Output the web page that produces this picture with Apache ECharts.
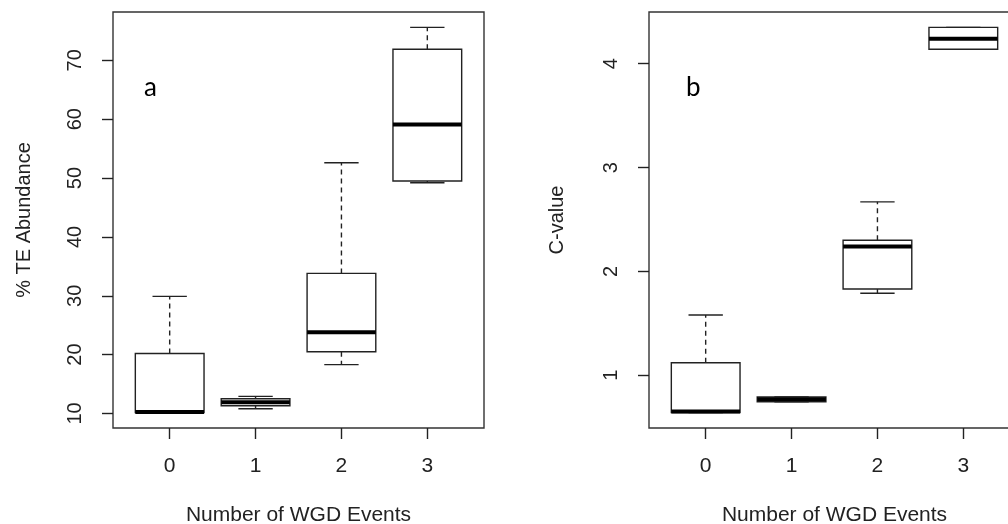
<!DOCTYPE html>
<html>
<head>
<meta charset="utf-8">
<script src="https://cdn.jsdelivr.net/npm/echarts@6/dist/echarts.min.js"></script>
<style>
  html, body { margin: 0; padding: 0; background: #fff; }
  #chart { width: 1008px; height: 524px; }
</style>
</head>
<body>
<div id="chart"></div>
<script>
// Number of whole-genome duplication events (x categories)
const groups = ['0', '1', '2', '3'];

// Panel a: % TE abundance, five-number summaries per group
const teMin = [10.15, 10.8, 18.3, 49.2];
const teQ1  = [10.15, 11.3, 20.5, 49.5];
const teMed = [10.25, 11.9, 23.8, 59.1];
const teQ3  = [20.2, 12.5, 33.8, 71.9];
const teMax = [29.9, 12.9, 52.6, 75.6];
const teTicks = [10, 20, 30, 40, 50, 60, 70];

// Panel b: C-value, five-number summaries per group
const cMin = [0.64, 0.745, 1.79, 4.14];
const cQ1  = [0.64, 0.745, 1.83, 4.14];
const cMed = [0.65, 0.768, 2.24, 4.24];
const cQ3  = [1.12, 0.79, 2.30, 4.35];
const cMax = [1.58, 0.79, 2.67, 4.35];
const cTicks = [1, 2, 3, 4];

const INK = '#222';
const BOXW = 0.8;   // box width in x units
const CAPW = 0.4;   // staple width in x units

function rows(mins, q1s, meds, q3s, maxs) {
  return groups.map((g, i) => [i, mins[i], q1s[i], meds[i], q3s[i], maxs[i]]);
}

// R-style range padding (4% each side)
function padded(mins, maxs) {
  const lo = Math.min(...mins), hi = Math.max(...maxs);
  const d = (hi - lo) * 0.04;
  return [lo - d, hi + d];
}

function renderBox(params, api) {
  const x = api.value(0);
  const unit = api.size([1, 0])[0];
  const bw = unit * BOXW, cw = unit * CAPW;
  const cx = api.coord([x, 0])[0];
  const yMin = api.coord([x, api.value(1)])[1];
  const yQ1 = api.coord([x, api.value(2)])[1];
  const yMed = api.coord([x, api.value(3)])[1];
  const yQ3 = api.coord([x, api.value(4)])[1];
  const yMax = api.coord([x, api.value(5)])[1];
  const solid = { stroke: INK, lineWidth: 1.4, fill: null };
  const dashed = { stroke: INK, lineWidth: 1.4, lineDash: [5, 4] };
  const children = [];
  if (yMax < yQ3) {
    children.push({ type: 'line', shape: { x1: cx, y1: yQ3, x2: cx, y2: yMax }, style: dashed });
  }
  if (yMin > yQ1) {
    children.push({ type: 'line', shape: { x1: cx, y1: yQ1, x2: cx, y2: yMin }, style: dashed });
  }
  children.push({ type: 'line', shape: { x1: cx - cw / 2, y1: yMax, x2: cx + cw / 2, y2: yMax }, style: solid });
  children.push({ type: 'line', shape: { x1: cx - cw / 2, y1: yMin, x2: cx + cw / 2, y2: yMin }, style: solid });
  children.push({ type: 'rect', shape: { x: cx - bw / 2, y: yQ3, width: bw, height: yQ1 - yQ3 }, style: { stroke: INK, lineWidth: 1.4, fill: '#fff' } });
  children.push({ type: 'line', shape: { x1: cx - bw / 2, y1: yMed, x2: cx + bw / 2, y2: yMed }, style: { stroke: '#000', lineWidth: 4 } });
  return { type: 'group', children };
}

const tickFont = { fontFamily: 'Liberation Sans', fontSize: 21, color: INK };
const rotFont = { fontFamily: 'Liberation Sans', fontSize: 20, color: INK };

function xAxisFor(gi) {
  return {
    type: 'value', gridIndex: gi, min: -0.66, max: 3.66,
    name: 'Number of WGD Events', nameLocation: 'middle', nameGap: 77,
    nameTextStyle: { fontFamily: 'Liberation Sans', fontSize: 21, color: INK },
    axisLine: { show: false, onZero: false },
    axisTick: { show: true, length: 11, customValues: [0, 1, 2, 3], lineStyle: { color: INK, width: 1.4 } },
    axisLabel: { customValues: [0, 1, 2, 3], formatter: v => groups[Math.round(v)], margin: 28, ...tickFont },
    splitLine: { show: false }
  };
}

function yAxisFor(gi, range, ticks, title, gap) {
  return {
    type: 'value', gridIndex: gi, min: range[0], max: range[1],
    name: title, nameLocation: 'middle', nameGap: gap, nameRotate: 90,
    nameTextStyle: { fontFamily: 'Liberation Sans', fontSize: 20, color: INK },
    axisLine: { show: false, onZero: false },
    axisTick: { show: true, length: 11, customValues: ticks, lineStyle: { color: INK, width: 1.4 } },
    axisLabel: { customValues: ticks, rotate: 90, margin: 28, ...rotFont },
    splitLine: { show: false }
  };
}

const teRange = padded(teMin, teMax);
const cRange = padded(cMin, cMax);

const gridBase = { top: 12, width: 371, height: 416, show: true, borderColor: '#333', borderWidth: 1.4,
  backgroundColor: 'transparent', outerBoundsMode: 'none', containLabel: false };

const chart = echarts.init(document.getElementById('chart'), null, { renderer: 'canvas' });
chart.setOption({
  animation: false,
  backgroundColor: '#fff',
  grid: [
    Object.assign({ left: 113 }, gridBase),
    Object.assign({ left: 649 }, gridBase)
  ],
  xAxis: [xAxisFor(0), xAxisFor(1)],
  yAxis: [
    yAxisFor(0, teRange, teTicks, '% TE Abundance', 79),
    yAxisFor(1, cRange, cTicks, 'C-value', 82)
  ],
  graphic: [
    { type: 'text', left: 144, top: 75, style: { text: 'a', font: '26px Lato', fill: '#000' } },
    { type: 'text', left: 686, top: 75, style: { text: 'b', font: '26px Lato', fill: '#000' } }
  ],
  series: [
    { type: 'custom', xAxisIndex: 0, yAxisIndex: 0, renderItem: renderBox,
      encode: { x: 0, y: [1, 2, 3, 4, 5] }, data: rows(teMin, teQ1, teMed, teQ3, teMax) },
    { type: 'custom', xAxisIndex: 1, yAxisIndex: 1, renderItem: renderBox,
      encode: { x: 0, y: [1, 2, 3, 4, 5] }, data: rows(cMin, cQ1, cMed, cQ3, cMax) }
  ]
});
</script>
</body>
</html>
